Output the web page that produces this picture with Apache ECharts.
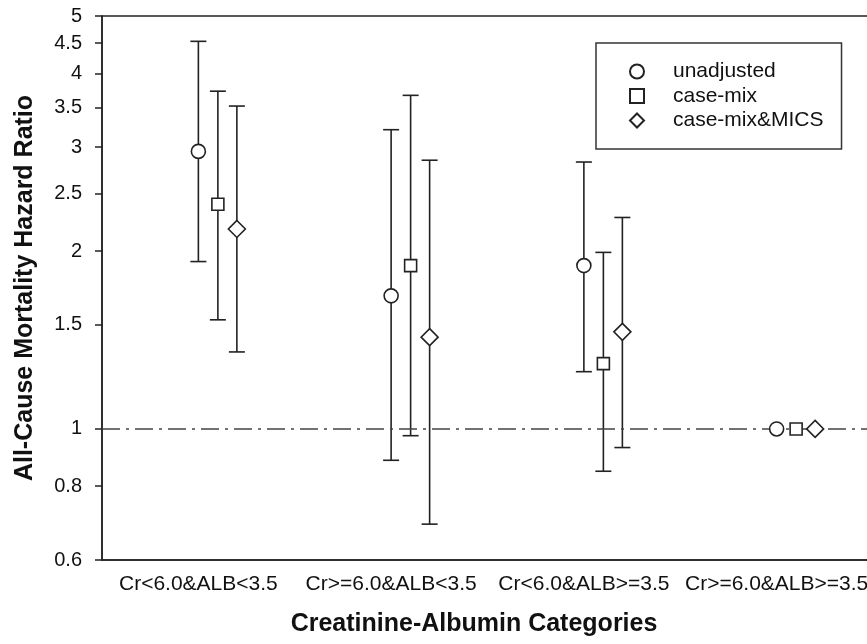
<!DOCTYPE html>
<html>
<head>
<meta charset="utf-8">
<script src="https://cdn.jsdelivr.net/npm/echarts@6/dist/echarts.min.js"></script>
<style>
  html, body { margin: 0; padding: 0; background: #fff; }
  #chart { width: 867px; height: 644px; }
</style>
</head>
<body>
<div id="chart"></div>
<script>
  const categories = ['Cr<6.0&ALB<3.5', 'Cr>=6.0&ALB<3.5', 'Cr<6.0&ALB>=3.5', 'Cr>=6.0&ALB>=3.5']
  const yTicks = [0.6, 0.8, 1, 1.5, 2, 2.5, 3, 3.5, 4, 4.5, 5]

  // hazard ratio and 95% CI, last category is the reference group
  const unadjusted = [2.95, 1.68, 1.89, 1.0]
  const unadjustedLow = [1.92, 0.885, 1.25, null]
  const unadjustedHigh = [4.53, 3.21, 2.83, null]

  const caseMix = [2.40, 1.89, 1.29, 1.0]
  const caseMixLow = [1.53, 0.974, 0.848, null]
  const caseMixHigh = [3.73, 3.67, 1.99, null]

  const caseMixMics = [2.18, 1.43, 1.46, 1.0]
  const caseMixMicsLow = [1.35, 0.69, 0.93, null]
  const caseMixMicsHigh = [3.52, 2.85, 2.28, null]

  const ink = '#222'
  const font = 'Liberation Sans, Arial, sans-serif'

  const groups = [
    { name: 'unadjusted', mid: unadjusted, low: unadjustedLow, high: unadjustedHigh, symbol: 'circle', size: 14, dx: 0 },
    { name: 'case-mix', mid: caseMix, low: caseMixLow, high: caseMixHigh, symbol: 'rect', size: 12, dx: 19.5 },
    { name: 'case-mix&MICS', mid: caseMixMics, low: caseMixMicsLow, high: caseMixMicsHigh, symbol: 'diamond', size: 17, dx: 38.5 },
  ]

  const series = []
  groups.forEach(function (g) {
    // error bars
    series.push({
      name: g.name + ' CI',
      type: 'custom',
      z: 2,
      data: categories.map(function (c, i) {
        return [i, g.low[i] == null ? '-' : g.low[i], g.high[i] == null ? '-' : g.high[i]]
      }),
      encode: { x: 0, y: [1, 2] },
      renderItem: function (params, api) {
        const lo = api.value(1)
        const hi = api.value(2)
        if (isNaN(lo) || isNaN(hi)) return
        const top = api.coord([api.value(0), hi])
        const bot = api.coord([api.value(0), lo])
        const x = top[0] + g.dx
        const cap = 8
        const st = { stroke: ink, lineWidth: 1.6 }
        return {
          type: 'group',
          children: [
            { type: 'line', shape: { x1: x, y1: top[1], x2: x, y2: bot[1] }, style: st },
            { type: 'line', shape: { x1: x - cap, y1: top[1], x2: x + cap, y2: top[1] }, style: st },
            { type: 'line', shape: { x1: x - cap, y1: bot[1], x2: x + cap, y2: bot[1] }, style: st },
          ],
        }
      },
    })
    // point estimates
    series.push({
      name: g.name,
      type: 'scatter',
      z: 5,
      symbol: g.symbol,
      symbolSize: g.size,
      symbolOffset: [g.dx, 0],
      itemStyle: { color: '#fff', borderColor: ink, borderWidth: 1.6, opacity: 1 },
      data: categories.map(function (c, i) { return [i, g.mid[i]] }),
    })
  })

  // reference line HR = 1
  series[0].markLine = {
    silent: true,
    symbol: 'none',
    label: { show: false },
    lineStyle: { color: '#444', width: 1.6, type: [18, 6, 3, 6] },
    data: [{ yAxis: 1 }],
  }

  const option = {
    animation: false,
    backgroundColor: '#fff',
    textStyle: { fontFamily: font, color: '#111' },
    grid: {
      left: 102, top: 16, right: -6, bottom: 84,
      outerBoundsMode: 'none',
      containLabel: false,
      show: true, borderColor: ink, borderWidth: 1.5,
    },
    legend: {
      orient: 'vertical',
      left: 596,
      top: 43,
      padding: [18, 18, 18, 33],
      itemGap: 3.5,
      itemWidth: 14,
      itemHeight: 14,
      backgroundColor: '#fff',
      borderColor: '#333',
      borderWidth: 1.5,
      borderRadius: 0,
      textStyle: { fontSize: 21, lineHeight: 20, color: '#111', fontFamily: font, padding: [0, 0, 0, 24] },
      data: groups.map(function (g) { return { name: g.name, icon: g.symbol } }),
    },
    xAxis: {
      type: 'category',
      data: categories,
      boundaryGap: true,
      name: 'Creatinine-Albumin Categories',
      nameLocation: 'middle',
      nameGap: 52,
      nameTextStyle: { fontSize: 25, fontWeight: 'bold', color: '#111', padding: [0, 27, 0, 0] },
      axisLine: { lineStyle: { color: ink, width: 1.5 } },
      axisTick: { alignWithLabel: true, length: 7, lineStyle: { color: ink, width: 1.5 } },
      axisLabel: { interval: 0, fontSize: 21, color: '#111', margin: 14, hideOverlap: false },
      splitLine: { show: false },
    },
    yAxis: {
      type: 'log',
      logBase: 10,
      min: 0.6,
      max: 5,
      name: 'All-Cause Mortality Hazard Ratio',
      nameLocation: 'middle',
      nameGap: 64,
      nameTextStyle: { fontSize: 25, fontWeight: 'bold', color: '#111' },
      axisLine: { show: true, lineStyle: { color: ink, width: 1.5 } },
      axisTick: { show: true, length: 7, customValues: yTicks, lineStyle: { color: ink, width: 1.5 } },
      axisLabel: {
        fontSize: 20, color: '#111', margin: 20, customValues: yTicks,
        formatter: function (v) { return String(+(+v).toFixed(2)) },
      },
      splitLine: { show: false },
    },
    series: series,
  }

  const chart = echarts.init(document.getElementById('chart'))
  chart.setOption(option)
</script>
</body>
</html>
